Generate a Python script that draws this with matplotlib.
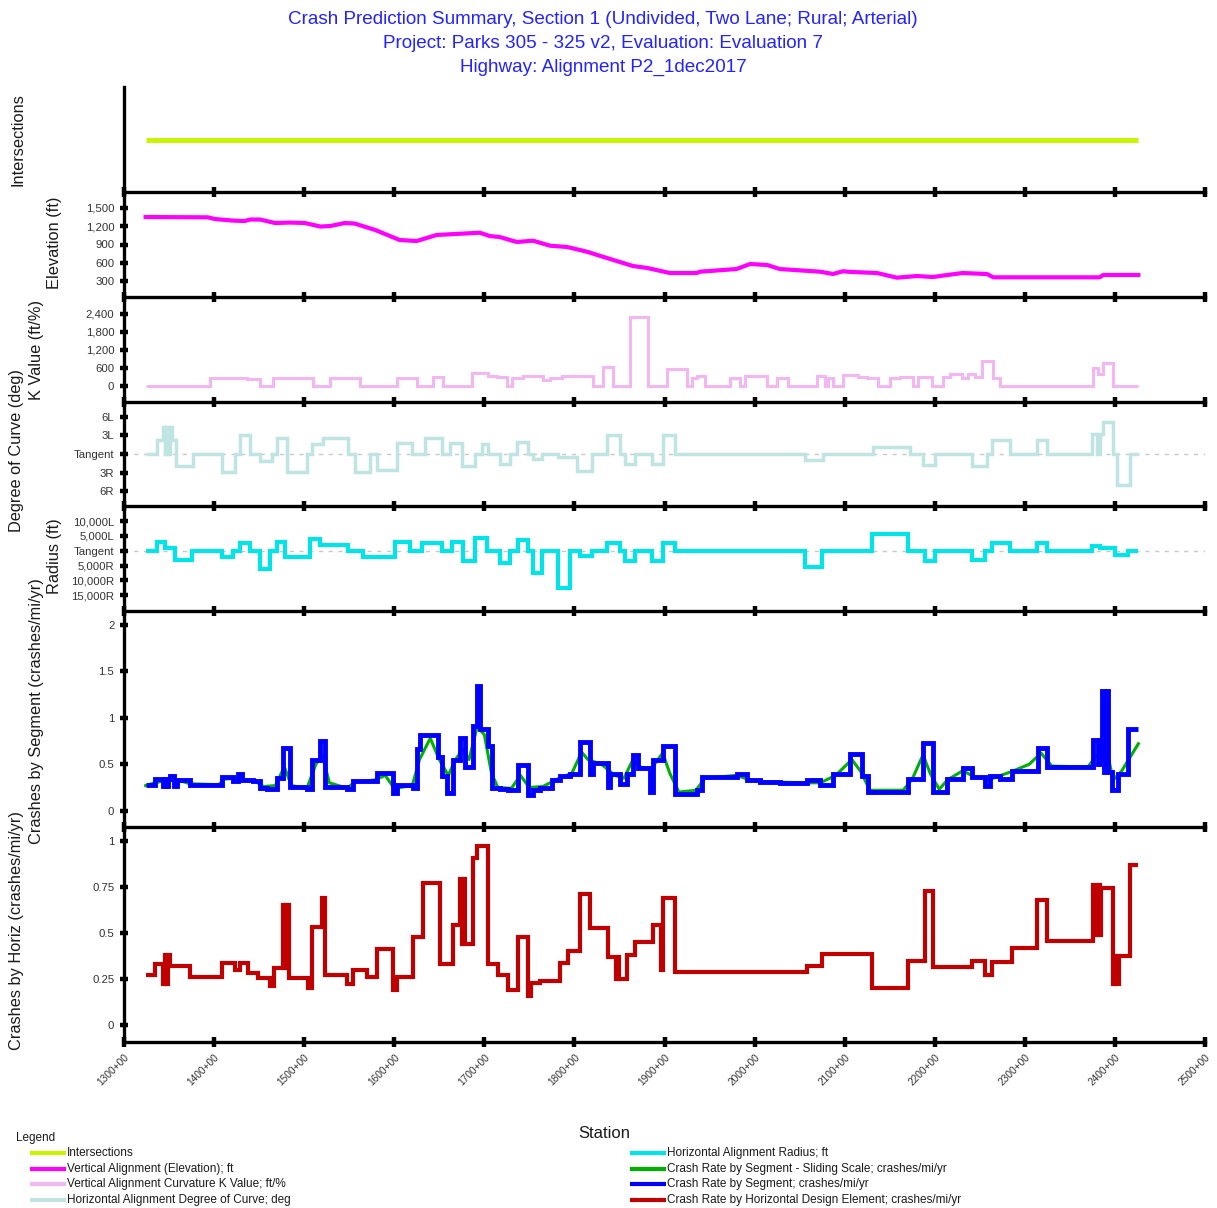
import matplotlib.pyplot as plt
from matplotlib.lines import Line2D
import numpy as np

plt.rcParams['font.family'] = ['Liberation Sans', 'DejaVu Sans']

# stations are in hundreds of feet (1300 -> "1300+00")
END_STA = 2426
station_ticks = list(range(1300, 2501, 100))
station_labels = [f'{s}+00' for s in station_ticks]

inter_sta = [1324, 2426]

elev_sta = [1324, 1393, 1401, 1421, 1434, 1440, 1451, 1468, 1484, 1501, 1518, 1529, 1545, 1556,
            1579, 1606, 1625, 1647, 1695, 1706, 1717, 1736, 1754, 1773, 1792, 1814, 1836, 1865,
            1881, 1906, 1936, 1939, 1980, 1995, 2014, 2028, 2073, 2087, 2098, 2109, 2136, 2158,
            2180, 2198, 2214, 2231, 2258, 2265, 2383, 2387, 2426]
elev_val = [1348, 1343, 1315, 1290, 1283, 1307, 1307, 1250, 1258, 1250, 1193, 1201, 1250, 1242,
            1136, 973, 957, 1055, 1092, 1038, 1022, 941, 962, 880, 859, 782, 680, 549,
            517, 435, 435, 456, 500, 582, 566, 500, 456, 419, 463, 451, 435, 359,
            386, 370, 403, 435, 419, 365, 365, 403, 403]

k_sta = [1324, 1395, 1418, 1437, 1451, 1465, 1510, 1529, 1540, 1562, 1603, 1625, 1643, 1654,
         1686, 1704, 1714, 1725, 1731, 1743, 1765, 1773, 1786, 1814, 1821, 1832, 1843, 1862,
         1882, 1903, 1925, 1931, 1936, 1945, 1973, 1984, 1989, 2014, 2025, 2037, 2069, 2078,
         2081, 2087, 2098, 2115, 2125, 2137, 2150, 2161, 2176, 2181, 2197, 2209, 2217, 2230,
         2237, 2245, 2252, 2265, 2272, 2376, 2381, 2387, 2398]
k_val = [0, 250, 270, 230, 0, 270, 0, 250, 270, 0, 270, 0, 300, 0,
         420, 330, 300, 0, 250, 310, 200, 250, 340, 330, 0, 620, 0, 2280,
         0, 560, 0, 250, 330, 0, 250, 0, 310, 0, 250, 0, 330, 0,
         250, 0, 350, 280, 250, 0, 250, 300, 0, 300, 0, 300, 400, 250,
         400, 300, 830, 250, 0, 580, 400, 750, 0]

# degree of curve, left curves positive
deg_sta = [1324, 1337, 1343, 1345, 1347, 1349, 1351, 1353, 1358, 1377, 1409, 1423, 1429, 1440,
           1451, 1464, 1470, 1481, 1503, 1509, 1521, 1549, 1556, 1573, 1581, 1603, 1620, 1634,
           1653, 1662, 1675, 1690, 1697, 1704, 1717, 1728, 1736, 1748, 1754, 1764, 1782, 1803,
           1820, 1836, 1851, 1856, 1867, 1886, 1898, 1912, 2056, 2076, 2131, 2173, 2187, 2200,
           2241, 2258, 2264, 2284, 2313, 2325, 2375, 2380, 2383, 2387, 2398, 2402, 2417]
deg_val = [0, 2.3, 4.4, 0, 4.4, 0, 4.4, 2.3, -2.0, 0, -2.9, 0, 3.0, 0,
           -1.1, 0, 2.5, -2.9, 0, 1.6, 2.5, 0, -2.9, 0, -2.6, 1.8, 0, 2.5,
           0, 1.8, -1.9, 0, 1.6, 0, -1.6, 0, 1.9, 0, -0.8, 0, -0.5, -2.7,
           0, 3.0, 0, -1.6, 0, -1.6, 3.0, 0, -1.0, 0, 1.2, 0, -1.8, 0,
           -1.9, 0, 2.3, 0, 2.3, 0, 3.2, 0, 3.2, 5.2, 0, -5.0, 0]
deg_ticks = [6, 3, 0, -3, -6]
deg_labels = ['6L', '3L', 'Tangent', '3R', '6R']

# radius on the program's category scale: 0 = tangent, +L / -R
rad_sta = [1324, 1337, 1346, 1357, 1375, 1409, 1421, 1429, 1440, 1451, 1462, 1470, 1479, 1506,
           1518, 1549, 1565, 1601, 1617, 1631, 1653, 1664, 1676, 1690, 1703, 1717, 1728, 1737,
           1748, 1754, 1764, 1782, 1795, 1806, 1820, 1836, 1851, 1856, 1867, 1886, 1898, 1912,
           2056, 2075, 2130, 2170, 2189, 2200, 2241, 2256, 2264, 2284, 2313, 2325, 2375, 2383,
           2400, 2415]
rad_val = [0, 0.6, 0.2, -0.6, 0, -0.45, 0, 0.5, 0, -1.25, 0, 0.6, -0.4, 0.8,
           0.4, 0, -0.4, 0.6, 0, 0.5, 0, 0.6, -0.7, 0.85, 0, -0.8, 0, 0.7,
           0, -1.5, 0, -2.5, 0, -0.35, 0, 0.5, 0, -0.7, 0, -0.7, 0.5, 0,
           -1.1, 0, 1.1, 0, -0.7, 0, -0.6, 0, 0.55, 0, 0.55, 0, 0.3, 0.2,
           -0.3, 0]
rad_ticks = [2, 1, 0, -1, -2, -3]
rad_labels = ['10,000L', '5,000L', 'Tangent', '5,000R', '10,000R', '15,000R']

seg_sta = [1324, 1334, 1343, 1345, 1347, 1349, 1351, 1355, 1359, 1373, 1409, 1421, 1427, 1431,
           1443, 1451, 1459, 1470, 1477, 1484, 1503, 1509, 1518, 1523, 1548, 1554, 1581, 1599,
           1603, 1621, 1625, 1629, 1649, 1653, 1659, 1665, 1673, 1679, 1687, 1692, 1695, 1704,
           1709, 1717, 1726, 1737, 1748, 1754, 1762, 1775, 1784, 1795, 1806, 1817, 1821, 1837,
           1840, 1851, 1858, 1865, 1871, 1884, 1887, 1898, 1912, 1936, 1942, 1980, 1992, 2006,
           2028, 2058, 2073, 2087, 2106, 2119, 2126, 2131, 2170, 2187, 2198, 2214, 2231, 2241,
           2256, 2261, 2272, 2286, 2315, 2325, 2376, 2381, 2383, 2386, 2388, 2390, 2392, 2397,
           2403, 2415]
seg_val = [0.28, 0.34, 0.27, 0.34, 0.27, 0.34, 0.375, 0.27, 0.33, 0.28, 0.36, 0.32, 0.40, 0.33,
           0.32, 0.245, 0.23, 0.35, 0.68, 0.25, 0.23, 0.55, 0.745, 0.26, 0.23, 0.32, 0.41, 0.19,
           0.28, 0.24, 0.66, 0.82, 0.58, 0.375, 0.19, 0.55, 0.78, 0.47, 0.91, 1.34, 0.88, 0.70,
           0.24, 0.23, 0.22, 0.49, 0.17, 0.22, 0.24, 0.325, 0.37, 0.39, 0.735, 0.39, 0.51, 0.25,
           0.39, 0.29, 0.40, 0.60, 0.46, 0.2, 0.55, 0.70, 0.18, 0.22, 0.36, 0.39, 0.33, 0.31,
           0.30, 0.325, 0.28, 0.39, 0.61, 0.37, 0.2, 0.205, 0.34, 0.73, 0.205, 0.34, 0.46, 0.365,
           0.27, 0.375, 0.34, 0.43, 0.675, 0.47, 0.765, 0.5, 0.765, 1.29, 0.42, 1.29, 0.42, 0.22,
           0.40, 0.88]

# sliding scale rate (smoothed), drawn as a plain line
slide_sta = [1324, 1334, 1345, 1360, 1373, 1405, 1412, 1425, 1445, 1455, 1468, 1478, 1486, 1503,
             1513, 1520, 1528, 1548, 1556, 1578, 1590, 1600, 1620, 1628, 1640, 1650, 1660, 1668,
             1676, 1683, 1692, 1700, 1708, 1715, 1730, 1740, 1750, 1765, 1785, 1797, 1808, 1815,
             1830, 1845, 1855, 1865, 1873, 1885, 1898, 1906, 1916, 1935, 1945, 1980, 1995, 2010,
             2058, 2073, 2090, 2108, 2118, 2128, 2165, 2175, 2187, 2195, 2205, 2214, 2231, 2245,
             2262, 2285, 2305, 2318, 2330, 2370, 2380, 2390, 2398, 2407, 2426]
slide_val = [0.27, 0.3, 0.32, 0.33, 0.29, 0.28, 0.34, 0.35, 0.32, 0.26, 0.27, 0.47, 0.27, 0.24,
             0.5, 0.6, 0.3, 0.24, 0.31, 0.33, 0.38, 0.24, 0.27, 0.55, 0.78, 0.55, 0.38, 0.55,
             0.66, 0.55, 0.9, 0.82, 0.4, 0.25, 0.24, 0.38, 0.25, 0.26, 0.36, 0.4, 0.63, 0.55,
             0.5, 0.38, 0.35, 0.55, 0.47, 0.45, 0.62, 0.4, 0.2, 0.22, 0.35, 0.38, 0.33, 0.31,
             0.3, 0.3, 0.38, 0.55, 0.42, 0.22, 0.22, 0.34, 0.6, 0.4, 0.23, 0.33, 0.43, 0.36,
             0.34, 0.42, 0.5, 0.62, 0.48, 0.47, 0.6, 0.7, 0.33, 0.42, 0.72]

hor_sta = [1324, 1334, 1343, 1345, 1347, 1349, 1351, 1373, 1409, 1423, 1429, 1438, 1449, 1462,
           1466, 1477, 1479, 1481, 1483, 1504, 1509, 1520, 1523, 1548, 1554, 1570, 1581, 1599,
           1603, 1621, 1632, 1651, 1665, 1673, 1675, 1677, 1679, 1687, 1692, 1704, 1715, 1726,
           1737, 1748, 1752, 1762, 1784, 1793, 1806, 1817, 1837, 1846, 1848, 1850, 1858, 1867,
           1887, 1896, 1898, 1912, 2058, 2075, 2130, 2170, 2189, 2198, 2241, 2256, 2264, 2286,
           2313, 2325, 2376, 2379, 2381, 2383, 2385, 2398, 2400, 2402, 2404, 2417]
hor_val = [0.27, 0.33, 0.22, 0.38, 0.22, 0.38, 0.32, 0.26, 0.335, 0.30, 0.335, 0.28, 0.255, 0.21,
           0.31, 0.65, 0.31, 0.65, 0.255, 0.2, 0.53, 0.69, 0.27, 0.225, 0.30, 0.26, 0.41, 0.19,
           0.26, 0.48, 0.77, 0.33, 0.54, 0.79, 0.44, 0.79, 0.44, 0.905, 0.97, 0.33, 0.27, 0.19,
           0.48, 0.155, 0.23, 0.24, 0.335, 0.40, 0.71, 0.525, 0.37, 0.25, 0.37, 0.25, 0.38, 0.45,
           0.54, 0.3, 0.69, 0.285, 0.32, 0.385, 0.2, 0.345, 0.725, 0.317, 0.345, 0.27, 0.34, 0.42,
           0.68, 0.455, 0.76, 0.49, 0.76, 0.49, 0.745, 0.225, 0.375, 0.225, 0.375, 0.87]

C_INTER = '#c8f400'
C_ELEV = '#ff00ff'
C_K = '#f2b6f0'
C_DEG = '#bfe4e2'
C_RAD = '#00e4e8'
C_SLIDE = '#00b000'
C_SEG = '#0000ff'
C_HOR = '#c00000'

W, H = 1217, 1208
fig = plt.figure(figsize=(W / 100, H / 100), dpi=100)
X0, X1 = 124, 1205


def panel(top, bottom):
    return fig.add_axes([X0 / W, 1 - bottom / H, (X1 - X0) / W, (bottom - top) / H])


def style(ax, ylim, ticks=None, labels=None, last=False):
    ax.set_xlim(1300, 2500)
    ax.set_ylim(*ylim)
    ax.patch.set_alpha(0)
    for s in ['top', 'right']:
        ax.spines[s].set_visible(False)
    for s in ['left', 'bottom']:
        ax.spines[s].set_linewidth(2.4)
        ax.spines[s].set_color('black')
        ax.spines[s].set_capstyle('projecting')
    ax.set_xticks(station_ticks)
    ax.tick_params(axis='x', direction='inout', length=7, width=3.2, color='black')
    if last:
        ax.set_xticklabels(station_labels, rotation=45, ha='right', va='top',
                           rotation_mode='anchor', fontsize=7.3, color='#333333')
        ax.tick_params(axis='x', pad=4)
    else:
        ax.set_xticklabels([])
    if ticks is None:
        ax.set_yticks([])
    else:
        ax.set_yticks(ticks)
        ax.set_yticklabels(labels, fontsize=8.2, color='#333333')
        ax.tick_params(axis='y', direction='inout', length=6, width=3.2, color='black', pad=4)


def step(ax, sta, val, **kw):
    x = np.append(sta, END_STA)
    y = np.append(val, val[-1])
    ax.step(x, y, where='post', solid_joinstyle='miter', solid_capstyle='butt', **kw)


# intersections
ax = panel(87, 192)
style(ax, (0, 1))
ax.plot(inter_sta, [0.5, 0.5], color=C_INTER, lw=3.6, solid_capstyle='butt')

# elevation
ax = panel(192, 297)
style(ax, (44, 1756), [1500, 1200, 900, 600, 300], ['1,500', '1,200', '900', '600', '300'])
ax.plot(elev_sta, elev_val, color=C_ELEV, lw=3.0)

# K value
ax = panel(297, 402)
style(ax, (-540, 2957), [2400, 1800, 1200, 600, 0], ['2,400', '1,800', '1,200', '600', '0'])
step(ax, k_sta, k_val, color=C_K, lw=2.2)

# degree of curve
ax = panel(402, 506)
style(ax, (-8.36, 8.36), deg_ticks, deg_labels)
ax.axhline(0, color='#c8c8c8', lw=1, ls=(0, (3, 4)), zorder=0)
step(ax, deg_sta, deg_val, color=C_DEG, lw=2.5)

# radius
ax = panel(506, 611)
style(ax, (-4.07, 3.02), rad_ticks, rad_labels)
ax.axhline(0, color='#c8c8c8', lw=1, ls=(0, (3, 4)), zorder=0)
step(ax, rad_sta, rad_val, color=C_RAD, lw=3.0)

# crashes by segment
ax = panel(611, 827)
style(ax, (-0.176, 2.15), [2, 1.5, 1, 0.5, 0], ['2', '1.5', '1', '0.5', '0'])
ax.plot(slide_sta, slide_val, color=C_SLIDE, lw=2.2, zorder=2)
step(ax, seg_sta, seg_val, color=C_SEG, lw=3.5, zorder=3)

# crashes by horizontal element
ax = panel(827, 1042)
style(ax, (-0.092, 1.074), [1, 0.75, 0.5, 0.25, 0], ['1', '0.75', '0.5', '0.25', '0'], last=True)
step(ax, hor_sta, hor_val, color=C_HOR, lw=3.0)

# titles and axis names
title_lines = ['Crash Prediction Summary, Section 1 (Undivided, Two Lane; Rural; Arterial)',
               'Project: Parks 305 - 325 v2, Evaluation: Evaluation 7',
               'Highway: Alignment P2_1dec2017']
for i, t in enumerate(title_lines):
    fig.text(603 / W, 1 - (20 + 23.5 * i) / H, t, ha='center', va='center',
             fontsize=13.6, color='#2323ff')

ylabels = [('Intersections', 18, 140), ('Elevation (ft)', 55, 243),
           ('K Value (ft/%)', 37, 350), ('Degree of Curve (deg)', 17, 451),
           ('Radius (ft)', 55, 556), ('Crashes by Segment (crashes/mi/yr)', 37, 711),
           ('Crashes by Horiz (crashes/mi/yr)', 17, 931)]
for t, x, y in ylabels:
    fig.text(x / W, 1 - y / H, t, rotation=90, ha='center', va='center',
             fontsize=11.8, color='#1a1a1a')

fig.text(604 / W, 1 - 1133 / H, 'Station', ha='center', va='center',
         fontsize=12, color='#1a1a1a')

# legend
fig.text(16 / W, 1 - 1138 / H, 'Legend', ha='left', va='center', fontsize=8.5, color='#1a1a1a')
legend_left = [(C_INTER, 'Intersections'),
               (C_ELEV, 'Vertical Alignment (Elevation); ft'),
               (C_K, 'Vertical Alignment Curvature K Value; ft/%'),
               (C_DEG, 'Horizontal Alignment Degree of Curve; deg')]
legend_right = [(C_RAD, 'Horizontal Alignment Radius; ft'),
                (C_SLIDE, 'Crash Rate by Segment - Sliding Scale; crashes/mi/yr'),
                (C_SEG, 'Crash Rate by Segment; crashes/mi/yr'),
                (C_HOR, 'Crash Rate by Horizontal Design Element; crashes/mi/yr')]
for col, entries in [(30, legend_left), (630, legend_right)]:
    for i, (c, t) in enumerate(entries):
        y = 1 - (1153 + 15.7 * i) / H
        fig.add_artist(Line2D([col / W, (col + 36) / W], [y, y], color=c, lw=3,
                              transform=fig.transFigure, solid_capstyle='butt'))
        fig.text((col + 37) / W, y, t, ha='left', va='center', fontsize=8.5, color='#1a1a1a')

fig.savefig('out.png', dpi=100)
